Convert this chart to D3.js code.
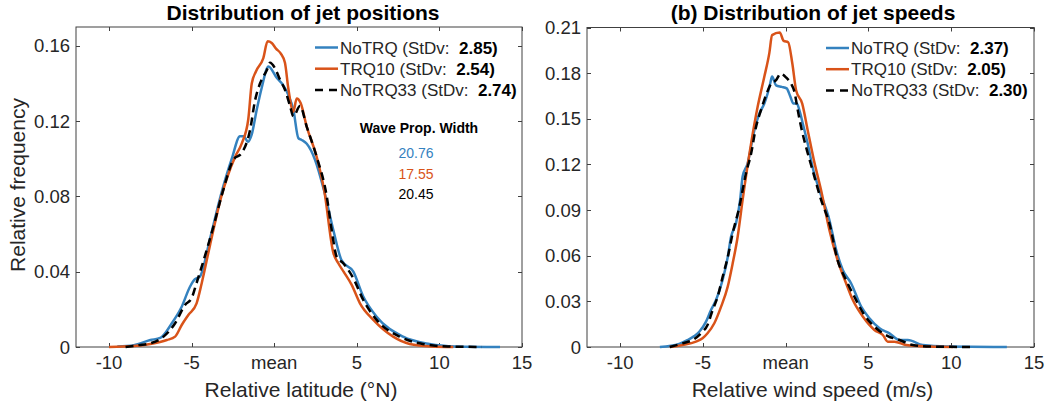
<!DOCTYPE html>
<html>
<head>
<meta charset="utf-8">
<script src="https://cdn.jsdelivr.net/npm/d3@7"></script>
<style>
  body { margin: 0; background: #fff; }
  text { font-family: "Liberation Sans", Arial, Helvetica, sans-serif; fill: #262626; }
</style>
</head>
<body>
<svg width="1048" height="406"></svg>
<script>
// x tick values and labels (same for both panels)
var xTicks = [-10, -5, 0, 5, 10, 15];
var xTickLabels = ["-10", "-5", "mean", "5", "10", "15"];

// series names / colours
var seriesNames = ["NoTRQ", "TRQ10", "NoTRQ33"];
var seriesColors = ["#3482bf", "#d95319", "#000000"];

// panel (a): jet positions  [relative latitude, relative frequency]
var posNoTRQ = [[-9.5,0.0003],[-8.5,0.001],[-7.5,0.0037],[-6.9,0.0048],[-6.2,0.0126],[-5.6,0.0214],[-5.1,0.032],[-4.8,0.036],[-4.5,0.0374],[-3.9,0.057],[-3.25,0.08],[-2.57,0.100],[-2.07,0.112],[-1.83,0.112],[-1.6,0.109],[-1.36,0.113],[-1.06,0.126],[-0.76,0.1376],[-0.35,0.149],[0.15,0.143],[0.55,0.139],[0.85,0.134],[1.16,0.126],[1.46,0.111],[1.66,0.110],[1.97,0.108],[2.47,0.0995],[3.02,0.083],[3.58,0.062],[4.08,0.046],[4.79,0.040],[5.39,0.0268],[6.2,0.0161],[7.8,0.0055],[9.4,0.0016],[11,0.0003],[13.67,0]];
var posTRQ10 = [[-10,0],[-8.5,0.0005],[-7.5,0.0016],[-6.5,0.0037],[-6.0,0.0055],[-5.6,0.0117],[-5.2,0.017],[-4.7,0.0232],[-4.39,0.0339],[-3.89,0.054],[-3.2,0.08],[-2.37,0.101],[-1.97,0.108],[-1.57,0.121],[-1.36,0.140],[-1.1,0.1465],[-0.66,0.1535],[-0.4,0.1624],[-0.15,0.1615],[0.11,0.1585],[0.39,0.156],[0.65,0.151],[0.85,0.1376],[1.16,0.125],[1.36,0.132],[1.6,0.1296],[1.97,0.117],[2.57,0.101],[3.02,0.0835],[3.58,0.050],[3.88,0.0445],[4.2,0.040],[4.69,0.033],[5.19,0.0232],[6.0,0.0144],[7.2,0.0055],[8.2,0.0016],[9.5,0.0003],[10.84,0]];
var posNoTRQ33 = [[-9,0],[-8.2,0.001],[-7.5,0.002],[-6.7,0.0055],[-6.0,0.0126],[-5.4,0.0223],[-5.0,0.026],[-4.7,0.034],[-4.39,0.0427],[-3.68,0.064],[-3.13,0.082],[-2.47,0.0995],[-1.97,0.103],[-1.46,0.1154],[-1.16,0.131],[-0.86,0.140],[-0.45,0.147],[-0.25,0.151],[0.05,0.148],[0.35,0.142],[0.65,0.1367],[0.96,0.128],[1.16,0.1225],[1.56,0.128],[1.97,0.117],[2.57,0.101],[3.18,0.080],[3.48,0.062],[3.78,0.048],[4.18,0.0445],[4.79,0.0365],[5.39,0.025],[6.2,0.0144],[7.6,0.0055],[9.0,0.0016],[10.5,0.0003],[12.56,0]];
var posStd = ["2.85", "2.54", "2.74"];
var waveWidth = ["20.76", "17.55", "20.45"];

// panel (b): jet speeds  [relative wind speed, relative frequency]
var spdNoTRQ = [[-7.6,0],[-6.43,0.002],[-5.92,0.0046],[-5.52,0.0072],[-5.22,0.010],[-4.81,0.0167],[-4.51,0.0243],[-4.2,0.031],[-3.81,0.044],[-3.5,0.059],[-3.3,0.0725],[-3.0,0.0813],[-2.75,0.0967],[-2.6,0.112],[-2.3,0.1206],[-1.89,0.1425],[-1.59,0.1534],[-1.29,0.160],[-1.09,0.1666],[-0.94,0.173],[-0.82,0.1778],[-0.58,0.172],[-0.24,0.171],[0.06,0.170],[0.27,0.165],[0.47,0.160],[0.67,0.160],[0.87,0.154],[1.03,0.147],[1.33,0.1337],[1.63,0.118],[2.04,0.103],[2.64,0.0835],[3.05,0.0638],[3.45,0.0506],[3.95,0.0419],[4.56,0.0265],[5.06,0.0189],[5.67,0.0123],[6.27,0.009],[6.87,0.0046],[7.38,0.0046],[8.28,0.0013],[9.7,0.0003],[13.36,0]];
var spdTRQ10 = [[-7.0,0],[-6.23,0.0013],[-5.42,0.0035],[-5.02,0.0057],[-4.72,0.009],[-4.31,0.0156],[-3.9,0.0265],[-3.5,0.0397],[-3.2,0.055],[-2.9,0.0725],[-2.6,0.0967],[-2.09,0.1337],[-1.69,0.158],[-1.29,0.1776],[-0.99,0.193],[-0.82,0.205],[-0.36,0.2067],[-0.12,0.2012],[0.15,0.2003],[0.4,0.1865],[0.63,0.1688],[1.0,0.16],[1.33,0.1425],[1.7,0.123],[2.14,0.103],[2.64,0.077],[3.14,0.057],[3.65,0.0419],[4.05,0.031],[4.66,0.020],[5.36,0.0112],[5.87,0.0079],[6.17,0.0035],[6.57,0.0035],[7.28,0.0013],[8.7,0.0003],[10.1,0]];
var spdNoTRQ33 = [[-7.0,0],[-6.23,0.0024],[-5.62,0.0046],[-5.12,0.009],[-4.72,0.0145],[-4.41,0.0243],[-4.11,0.033],[-3.81,0.046],[-3.5,0.059],[-3.2,0.0748],[-2.8,0.092],[-2.4,0.114],[-2.09,0.127],[-1.79,0.1447],[-1.49,0.1557],[-1.15,0.1666],[-0.88,0.173],[-0.58,0.1754],[-0.3,0.1797],[0.04,0.1770],[0.33,0.173],[0.53,0.1677],[0.73,0.1557],[0.93,0.1447],[1.23,0.1315],[1.63,0.116],[2.14,0.0967],[2.64,0.0813],[3.14,0.057],[3.65,0.044],[4.15,0.033],[4.76,0.021],[5.47,0.0123],[6.17,0.0072],[6.87,0.0046],[7.68,0.0013],[8.7,0.0003],[11.15,0]];
var spdStd = ["2.37", "2.05", "2.30"];

var posTicksY = [0, 0.04, 0.08, 0.12, 0.16];
var spdTicksY = [0, 0.03, 0.06, 0.09, 0.12, 0.15, 0.18, 0.21];

var svg = d3.select("svg");
var axisColor = "#404040";

function drawPanel(p) {
  var x = d3.scaleLinear().domain([-12, 15]).range([p.left, p.right]);
  var y = d3.scaleLinear().domain([0, p.ymax]).range([p.bottom, p.top]);
  var g = svg.append("g");

  // box
  g.append("rect")
    .attr("x", p.left).attr("y", p.top)
    .attr("width", p.right - p.left).attr("height", p.bottom - p.top)
    .attr("fill", "none").attr("stroke", axisColor).attr("stroke-width", 1);

  // ticks inward, on all four sides
  xTicks.forEach(function (t, i) {
    var px = Math.round(x(t)) + 0.5;
    g.append("line").attr("x1", px).attr("x2", px).attr("y1", p.bottom).attr("y2", p.bottom - 4).attr("stroke", axisColor);
    g.append("line").attr("x1", px).attr("x2", px).attr("y1", p.top).attr("y2", p.top + 4).attr("stroke", axisColor);
    g.append("text").attr("x", x(t)).attr("y", p.bottom + 22)
      .attr("text-anchor", "middle").style("font-size", "18.5px").text(xTickLabels[i]);
  });
  p.yticks.forEach(function (t) {
    var py = Math.round(y(t)) + 0.5;
    g.append("line").attr("x1", p.left).attr("x2", p.left + 4).attr("y1", py).attr("y2", py).attr("stroke", axisColor);
    g.append("line").attr("x1", p.right).attr("x2", p.right - 4).attr("y1", py).attr("y2", py).attr("stroke", axisColor);
    g.append("text").attr("x", p.left - 6).attr("y", y(t) + 6.5)
      .attr("text-anchor", "end").style("font-size", "18.5px").text(t === 0 ? "0" : d3.format(".2f")(t));
  });

  // curves
  var line = d3.line()
    .x(function (d) { return x(d[0]); })
    .y(function (d) { return y(d[1]); })
    .curve(d3.curveMonotoneX);
  p.series.forEach(function (s, i) {
    g.append("path").datum(s)
      .attr("d", line)
      .attr("fill", "none")
      .attr("stroke", seriesColors[i])
      .attr("stroke-width", 2.5)
      .attr("stroke-linejoin", "round")
      .attr("stroke-dasharray", i === 2 ? "8,5" : null);
  });

  // titles
  g.append("text").attr("x", p.titleX).attr("y", 19.5)
    .attr("text-anchor", "middle").style("font-size", "21px").style("font-weight", "bold")
    .style("fill", "#000").text(p.title);
  g.append("text").attr("x", (p.left + p.right) / 2 + 2).attr("y", 397)
    .attr("text-anchor", "middle").style("font-size", "21px").text(p.xlabel);

  // legend
  seriesNames.forEach(function (n, i) {
    var cy = p.legY + i * 21.2;
    g.append("line")
      .attr("x1", p.legX).attr("x2", p.legX + 23)
      .attr("y1", cy).attr("y2", cy)
      .attr("stroke", seriesColors[i]).attr("stroke-width", 2.5)
      .attr("stroke-dasharray", i === 2 ? "8,6" : null);
    var t = g.append("text").attr("x", p.legX + 25).attr("y", cy + 6).style("font-size", "17px");
    t.append("tspan").text(n + " (StDv:\u00a0 ");
    t.append("tspan").style("font-weight", "bold").style("fill", "#000").text(p.std[i] + ")");
  });
}

drawPanel({
  left: 76, right: 522, top: 27, bottom: 347, ymax: 0.17,
  yticks: posTicksY,
  series: [posNoTRQ, posTRQ10, posNoTRQ33],
  std: posStd,
  title: "Distribution of jet positions", titleX: 303,
  xlabel: "Relative latitude (\u00b0N)",
  legX: 315, legY: 47.5
});

drawPanel({
  left: 587, right: 1034, top: 27.5, bottom: 347, ymax: 0.21,
  yticks: spdTicksY,
  series: [spdNoTRQ, spdTRQ10, spdNoTRQ33],
  std: spdStd,
  title: "(b) Distribution of jet speeds", titleX: 813,
  xlabel: "Relative wind speed (m/s)",
  legX: 826, legY: 48
});

// y label (left panel only)
svg.append("text")
  .attr("transform", "translate(25,185) rotate(-90)")
  .attr("text-anchor", "middle").style("font-size", "21px")
  .text("Relative frequency");

// wave propagation width annotation
svg.append("text").attr("x", 419).attr("y", 133)
  .attr("text-anchor", "middle").style("font-size", "14px").style("font-weight", "bold")
  .style("fill", "#000").text("Wave Prop. Width");
waveWidth.forEach(function (w, i) {
  svg.append("text").attr("x", 416).attr("y", 158 + i * 20.7)
    .attr("text-anchor", "middle").style("font-size", "14px")
    .style("fill", i === 2 ? "#000" : seriesColors[i]).text(w);
});
</script>
</body>
</html>
